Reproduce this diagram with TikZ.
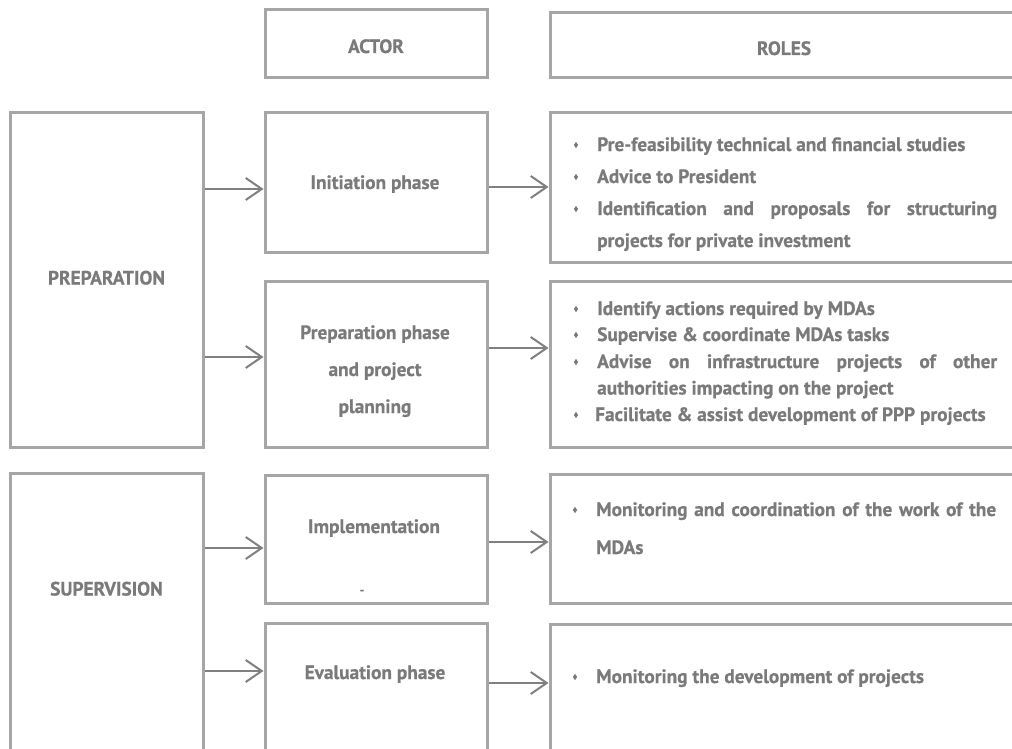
\documentclass[tikz,border=0pt]{standalone}
\usepackage{fontspec}
\setmainfont{PT Sans}[BoldFont={PT Sans Bold},BoldFeatures={FakeBold=0.6}]
\usetikzlibrary{arrows.meta,shapes.geometric}
\definecolor{frame}{HTML}{A6A6A6}
\definecolor{ink}{HTML}{7A7A7A}
\definecolor{wire}{HTML}{808080}
\newcommand\txtsize[1]{\bfseries\fontsize{19.3}{#1}\selectfont}
\begin{document}
\begin{tikzpicture}[x=1pt,y=-1pt,
  box/.style={draw=frame, line width=3pt, rectangle, inner sep=0pt, fill=white},
  lbl/.style={text=ink, font=\txtsize{23}, inner sep=0pt, anchor=base},
  item/.style={text=ink, font=\txtsize{23}, inner sep=0pt, anchor=base west},
  wrapitem/.style={item, text width=400pt, align=justify},
  bul/.style={diamond, fill=ink, inner sep=0pt, minimum width=4.5pt, minimum height=6.5pt},
  link/.style={draw=wire, line width=2pt, -{Straight Barb[length=16pt,width=22pt]}},
]
\useasboundingbox (0,0) rectangle (1012,749);
\clip (0,0) rectangle (1012,749);
\fill[white] (0,0) rectangle (1012,749);

% column headers
\node[box, minimum width=222pt, minimum height=68pt] (actorhead) at (376,44) {};
\node[box, minimum width=490pt, minimum height=65pt] (roleshead) at (795,45.5) {};
\node[lbl] (actortxt) at (376,53) {ACTOR};
\node[lbl] (rolestxt) at (784,55) {ROLES};

% stage boxes
\node[box, minimum width=193pt, minimum height=334pt] (prep) at (106.5,280) {};
\node[box, minimum width=193pt, minimum height=307pt] (sup) at (106.5,626.5) {};

% actor boxes
\node[box, minimum width=222pt, minimum height=139pt] (init) at (376,182.5) {};
\node[box, minimum width=222pt, minimum height=166pt] (pp) at (376,364) {};
\node[box, minimum width=222pt, minimum height=128pt] (impl) at (376,539) {};
\node[box, minimum width=222pt, minimum height=157pt] (eval) at (376,701.5) {};

% role boxes
\node[box, minimum width=490pt, minimum height=149pt] (rol1) at (795,187.5) {};
\node[box, minimum width=490pt, minimum height=166pt] (rol2) at (795,364) {};
\node[box, minimum width=490pt, minimum height=129pt] (rol3) at (795,538.5) {};
\node[box, minimum width=490pt, minimum height=156pt] (rol4) at (795,702) {};

% connector heights
\coordinate (h1) at (0,189);
\coordinate (h2) at (0,357);
\coordinate (h3) at (0,187);
\coordinate (h4) at (0,348);
\coordinate (h5) at (0,548);
\coordinate (h6) at (0,671);
\coordinate (h7) at (0,542);
\coordinate (h8) at (0,683);

\draw[link] (prep.east |- h1) -- (init.west |- h1);
\draw[link] (prep.east |- h2) -- (pp.west |- h2);
\draw[link] (init.east |- h3) -- (rol1.west |- h3);
\draw[link] (pp.east |- h4) -- (rol2.west |- h4);
\draw[link] (sup.east |- h5) -- (impl.west |- h5);
\draw[link] (sup.east |- h6) -- (eval.west |- h6);
\draw[link] (impl.east |- h7) -- (rol3.west |- h7);
\draw[link] (eval.east |- h8) -- (rol4.west |- h8);

% stage and actor labels
\node[lbl] (preptxt) at (106.5,284.5) {PREPARATION};
\node[lbl] (suptxt) at (106.5,595.5) {SUPERVISION};
\node[lbl] (inittxt) at (375,189) {Initiation phase};
\node[lbl] (pptxta) at (375,339) {Preparation phase};
\node[lbl] (pptxtb) at (375,376) {and project};
\node[lbl] (pptxtc) at (375,413) {planning};
\node[lbl] (impltxt) at (374,533) {Implementation};
\node[lbl, font=\bfseries\fontsize{12}{12}\selectfont] (impldash) at (362,594) {-};
\node[lbl] (evaltxt) at (375,679) {Evaluation phase};

% roles: initiation
\node[bul] (b11) at (576,145) {};
\node[item] (r11) at (597,151) {Pre-feasibility technical and financial studies};
\node[bul] (b12) at (576,177) {};
\node[item] (r12) at (597,183) {Advice to President};
\node[bul] (b13) at (576,209) {};
\node[wrapitem, font=\txtsize{32}] (r13) at (597,215)
  {Identification and proposals for structuring\linebreak projects for private investment};

% roles: preparation
\node[bul] (b21) at (576,309) {};
\node[item] (r21) at (597,315) {Identify actions required by MDAs};
\node[bul] (b22) at (576,335) {};
\node[item] (r22) at (597,341) {Supervise \& coordinate MDAs tasks};
\node[bul] (b23) at (576,362) {};
\node[wrapitem, font=\txtsize{26.5}] (r23) at (597,368)
  {Advise on infrastructure projects of other\linebreak authorities impacting on the project};
\node[bul] (b24) at (576,415) {};
\node[item] (r24) at (595,421) {Facilitate \& assist development of PPP projects};

% roles: implementation
\node[bul] (b31) at (575,510) {};
\node[wrapitem, font=\txtsize{38}] (r31) at (596,516)
  {Monitoring and coordination of the work of the\linebreak MDAs};

% roles: evaluation
\node[bul] (b41) at (575,677) {};
\node[item] (r41) at (596,683) {Monitoring the development of projects};
\end{tikzpicture}
\end{document}
